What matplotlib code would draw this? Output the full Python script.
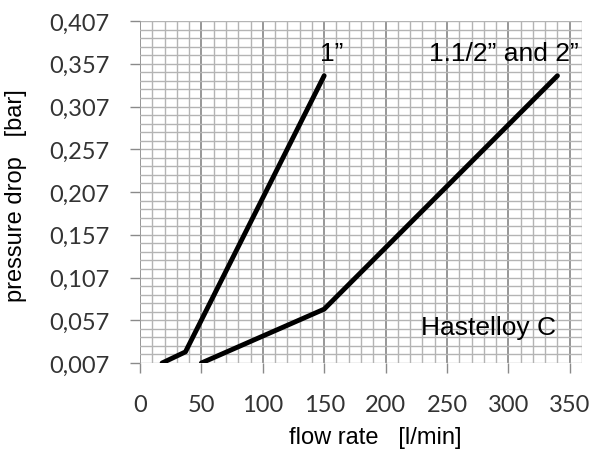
import numpy as np
import matplotlib.pyplot as plt
from matplotlib.ticker import FixedLocator, MultipleLocator

# curve "1 inch"
flow_1in = [18, 37, 150]
dp_1in = [0.007, 0.020, 0.343]

# curve "1.1/2 and 2 inch"
flow_2in = [50, 150, 340]
dp_2in = [0.007, 0.070, 0.343]

x_ticks = [0, 50, 100, 150, 200, 250, 300, 350]
y_ticks = [0.007, 0.057, 0.107, 0.157, 0.207, 0.257, 0.307, 0.357, 0.407]
y_labels = ["0,007", "0,057", "0,107", "0,157", "0,207", "0,257", "0,307", "0,357", "0,407"]

fig = plt.figure(figsize=(5.95, 4.52), dpi=100)
ax = fig.add_axes([140 / 595, 88 / 452, 442 / 595, 342 / 452])

ax.set_xlim(0, 360)
ax.set_ylim(0.007, 0.407)

# grid
ax.xaxis.set_major_locator(FixedLocator(x_ticks))
ax.xaxis.set_minor_locator(MultipleLocator(10))
ax.yaxis.set_major_locator(FixedLocator(y_ticks))
ax.yaxis.set_minor_locator(FixedLocator(np.arange(0.007, 0.4071, 0.01)))
ax.grid(which="minor", color="#b4b4b4", linewidth=1.0)
ax.grid(which="major", axis="y", color="#b4b4b4", linewidth=1.0)
ax.grid(which="major", axis="x", color="#7a7a7a", linewidth=1.1)
ax.set_axisbelow(True)
for s in ax.spines.values():
    s.set_visible(False)

ax.set_yticklabels(y_labels)
ax.tick_params(which="major", length=7, width=1, color="#8a8a8a",
               labelsize=17, labelcolor="#333333", pad=15)
ax.tick_params(which="minor", length=0)
for lab in ax.get_xticklabels() + ax.get_yticklabels():
    lab.set_family("Lato")

ax.plot(flow_1in, dp_1in, color="black", lw=3.5, solid_capstyle="round", solid_joinstyle="round")
ax.plot(flow_2in, dp_2in, color="black", lw=3.5, solid_capstyle="round", solid_joinstyle="round")

txt = dict(fontsize=19, family="Liberation Sans", color="black")
ax.text(147, 0.361, "1\u201d", **txt)
ax.text(235.5, 0.361, "1.1/2\u201d and 2\u201d", **txt)
ax.text(229, 0.041, "Hastelloy C", **txt)

ax.set_xlabel("flow rate   [l/min]", fontsize=17, family="Liberation Sans")
ax.set_ylabel("pressure drop   [bar]", fontsize=17, family="Liberation Sans")
ax.xaxis.set_label_coords(0.532, -0.183)
ax.yaxis.set_label_coords(-0.255, 0.493)

fig.savefig("out.png", dpi=100)
